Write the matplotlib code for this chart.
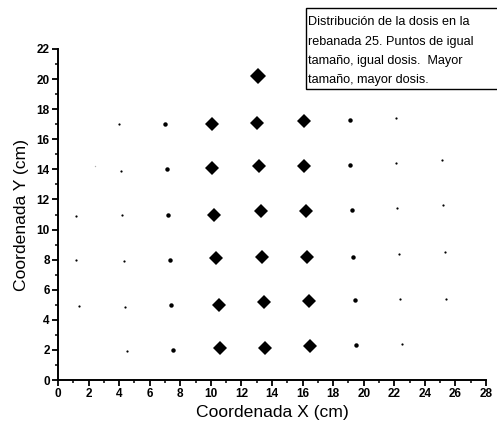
"""Distribución de la dosis en la rebanada 25 (recreación)."""

import matplotlib

matplotlib.use("Agg")
import matplotlib.pyplot as plt
from matplotlib.patches import Rectangle
from matplotlib.ticker import MultipleLocator


# Puntos medidos: coordenadas (cm) y nivel de dosis (1 = menor, 5 = mayor)
x_cm = [
    4.0, 7.0, 10.1, 13.0, 16.1, 19.1, 22.1,
    2.4, 4.1, 7.15, 10.1, 13.15, 16.1, 19.1, 22.1, 25.1,
    1.2, 4.2, 7.2, 10.2, 13.25, 16.2, 19.2, 22.2, 25.2,
    1.2, 4.3, 7.3, 10.35, 13.35, 16.3, 19.3, 22.3, 25.3,
    1.4, 4.4, 7.4, 10.5, 13.45, 16.45, 19.4, 22.4, 25.4,
    4.5, 7.5, 10.6, 13.55, 16.5, 19.5, 22.5,
    13.1,
]
y_cm = [
    17.0, 17.0, 17.0, 17.1, 17.2, 17.3, 17.4,
    14.2, 13.9, 14.0, 14.1, 14.2, 14.2, 14.3, 14.4, 14.6,
    10.9, 11.0, 11.0, 11.0, 11.2, 11.2, 11.3, 11.4, 11.6,
    8.0, 7.9, 8.0, 8.1, 8.2, 8.2, 8.2, 8.4, 8.5,
    4.9, 4.85, 5.0, 5.0, 5.2, 5.25, 5.3, 5.4, 5.4,
    1.9, 2.0, 2.1, 2.1, 2.25, 2.3, 2.4,
    20.2,
]
nivel_dosis = [
    2, 3, 4, 4, 4, 3, 2,
    1, 2, 3, 4, 4, 4, 3, 2, 2,
    2, 2, 3, 4, 4, 4, 3, 2, 2,
    2, 2, 3, 4, 4, 4, 3, 2, 2,
    2, 2, 3, 4, 4, 4, 3, 2, 2,
    2, 3, 4, 4, 4, 3, 2,
    5,
]

nota = (
    "Distribución de la dosis en la\n"
    "rebanada 25. Puntos de igual\n"
    "tamaño, igual dosis.  Mayor\n"
    "tamaño, mayor dosis."
)

# marker size (pt) and colour for each dose level
marker_size = {1: 1.0, 2: 1.6, 3: 3.2, 4: 7.3, 5: 7.9}
marker_color = {1: "#b0b0b0", 2: "black", 3: "black", 4: "black", 5: "black"}


def main() -> None:
    plt.rcParams["font.family"] = ["Liberation Sans", "DejaVu Sans"]

    fig = plt.figure(figsize=(4.97, 4.34), dpi=100)
    ax = fig.add_axes([0.1167, 0.1244, 0.8613, 0.7627])

    for level in sorted(set(nivel_dosis)):
        xs = [x for x, n in zip(x_cm, nivel_dosis) if n == level]
        ys = [y for y, n in zip(y_cm, nivel_dosis) if n == level]
        ax.plot(
            xs,
            ys,
            linestyle="none",
            marker="D" if level >= 4 else "o",
            markersize=marker_size[level],
            color=marker_color[level],
            markeredgewidth=0,
        )

    ax.set_xlim(0, 28)
    ax.set_ylim(0, 22)
    ax.xaxis.set_major_locator(MultipleLocator(2))
    ax.xaxis.set_minor_locator(MultipleLocator(1))
    ax.yaxis.set_major_locator(MultipleLocator(2))
    ax.yaxis.set_minor_locator(MultipleLocator(1))
    ax.spines[["top", "right"]].set_visible(False)
    for side in ("left", "bottom"):
        ax.spines[side].set_linewidth(1.4)
    ax.tick_params(which="major", direction="out", length=4, width=1.3,
                   labelsize=8.5, pad=2)
    ax.tick_params(which="minor", direction="out", length=2.5, width=1.1)
    for label in ax.get_xticklabels() + ax.get_yticklabels():
        label.set_fontweight("bold")

    ax.set_xlabel("Coordenada X (cm)", fontsize=12.6, labelpad=3)
    ax.set_ylabel("Coordenada Y (cm)", fontsize=12.6, labelpad=5)

    fig.patches.append(
        Rectangle((0.616, 0.795), 0.40, 0.187, transform=fig.transFigure,
                  facecolor="white", edgecolor="black", linewidth=1.0)
    )
    fig.text(0.620, 0.962, nota, fontsize=9.1, va="top", ha="left",
             linespacing=1.78)

    fig.savefig("out.png", dpi=100)
    plt.close(fig)


if __name__ == "__main__":
    main()
